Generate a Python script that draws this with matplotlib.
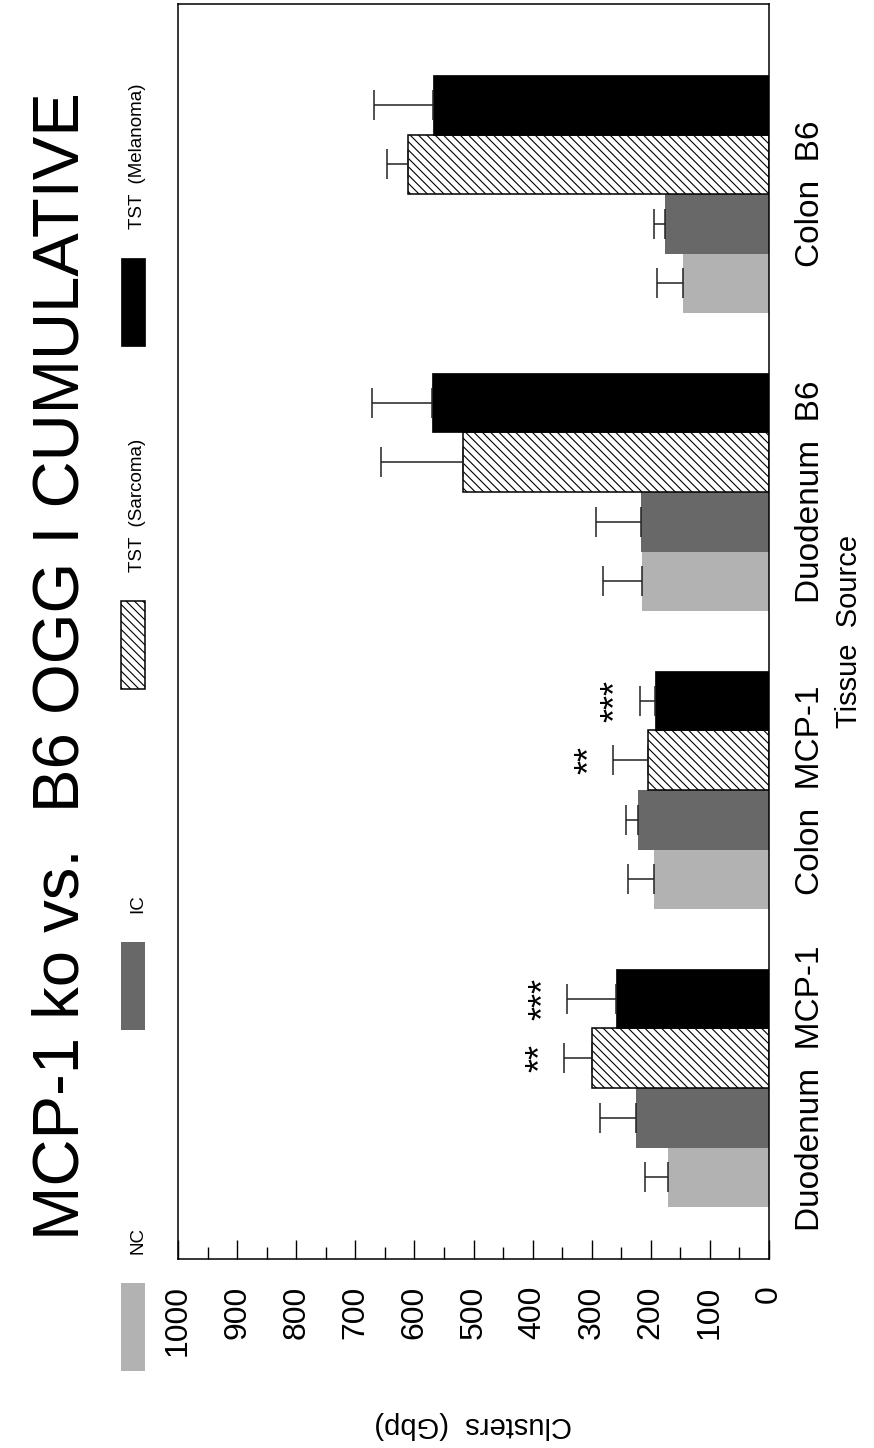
import matplotlib
matplotlib.use("Agg")
import matplotlib.pyplot as plt
from matplotlib.patches import Rectangle
from matplotlib.ticker import MultipleLocator
import numpy as np

plt.rcParams['font.family'] = ['Liberation Sans', 'DejaVu Sans']

# Tissue groups, bottom to top
categories = ["Duodenum  MCP-1", "Colon  MCP-1", "Duodenum  B6", "Colon  B6"]
series_names = ["NC", "IC", "TST  (Sarcoma)", "TST  (Melanoma)"]

nc_vals = [171, 195, 215, 146]
ic_vals = [225, 222, 217, 176]
sarcoma_vals = [300, 205, 517, 610]
melanoma_vals = [259, 193, 571, 569]

nc_err = [39, 44, 66, 44]
ic_err = [61, 20, 76, 19]
sarcoma_err = [47, 59, 139, 36]
melanoma_err = [83, 26, 100, 99]

# significance marks: (group index, series index, text)
stars = [(0, 2, "**"), (0, 3, "***"), (1, 2, "**"), (1, 3, "***")]

value_ticks = list(range(0, 1001, 100))

fig = plt.figure(figsize=(8.74, 14.48), dpi=100)
W, H = 874, 1448
ax = fig.add_axes([178 / W, (H - 1259) / H, (769 - 178) / W, (1259 - 4) / H])

values = [nc_vals, ic_vals, sarcoma_vals, melanoma_vals]
errors = [nc_err, ic_err, sarcoma_err, melanoma_err]
styles = [
    dict(color="#b2b2b2", edgecolor="none"),
    dict(color="#686868", edgecolor="none"),
    dict(color="white", edgecolor="black", hatch="\\\\\\\\", linewidth=1.1),
    dict(color="black", edgecolor="black", linewidth=0.5),
]

bw = 0.2
pos = np.arange(len(categories))
offsets = [-1.5 * bw, -0.5 * bw, 0.5 * bw, 1.5 * bw]
plt.rcParams['hatch.linewidth'] = 0.8

for vals, errs, st, off in zip(values, errors, styles, offsets):
    ax.barh(pos + off, vals, height=bw, zorder=2, **st)
    lower = np.zeros(len(errs))
    ax.errorbar(vals, pos + off, xerr=[lower, errs], fmt="none",
                ecolor="#222222", elinewidth=1.1, capsize=10.5,
                capthick=1.1, zorder=3)

for g, s, txt in stars:
    x = values[s][g] + errors[s][g] + 38
    ax.text(x, pos[g] + offsets[s], txt, rotation=90, ha="center",
            va="center", fontsize=26, color="black")

ax.set_xlim(1000, 0)
ax.set_ylim(-0.574, 3.638)
ax.xaxis.set_major_locator(MultipleLocator(100))
ax.xaxis.set_minor_locator(MultipleLocator(50))
ax.set_xticks(value_ticks)
ax.set_xticklabels([str(v) for v in value_ticks], rotation=90, fontsize=23)
ax.tick_params(axis="x", which="major", direction="in", length=14,
               width=1.0, pad=19, top=False)
ax.tick_params(axis="x", which="minor", direction="in", length=9,
               width=1.0, top=False)

ax.yaxis.tick_right()
ax.set_yticks(pos)
ax.set_yticklabels(categories, rotation=90, va="center", fontsize=24)
ax.tick_params(axis="y", length=0, pad=19)
ax.yaxis.set_label_position("right")
ax.set_ylabel("Tissue  Source", rotation=90, fontsize=21, labelpad=6)

for sp in ax.spines.values():
    sp.set_linewidth(1.1)
    sp.set_color("black")

# axis title for the value axis, drawn upside down below the tick labels
fig.text(473 / W, 1 - 1425 / H, "Clusters  (Gbp)", rotation=180,
         ha="center", va="center", fontsize=21)

# chart title
fig.text(62 / W, 1 - 666 / H, "MCP-1 ko vs.  B6 OGG I CUMULATIVE",
         rotation=90, ha="center", va="center", fontsize=47)

# legend
leg_tops = [1283, 942, 601, 258]
swatch_len = 88
for name, st, top in zip(series_names, styles, leg_tops):
    kw = dict(st)
    kw.pop("color")
    fc = st["color"]
    rect = Rectangle((121 / W, 1 - (top + swatch_len) / H), 24 / W,
                     swatch_len / H, transform=fig.transFigure,
                     facecolor=fc, **kw)
    fig.patches.append(rect)
    fig.text(138 / W, 1 - (top - 29) / H, name, rotation=90,
             ha="center", va="bottom", fontsize=13.5)

fig.savefig("out.png", dpi=100)
